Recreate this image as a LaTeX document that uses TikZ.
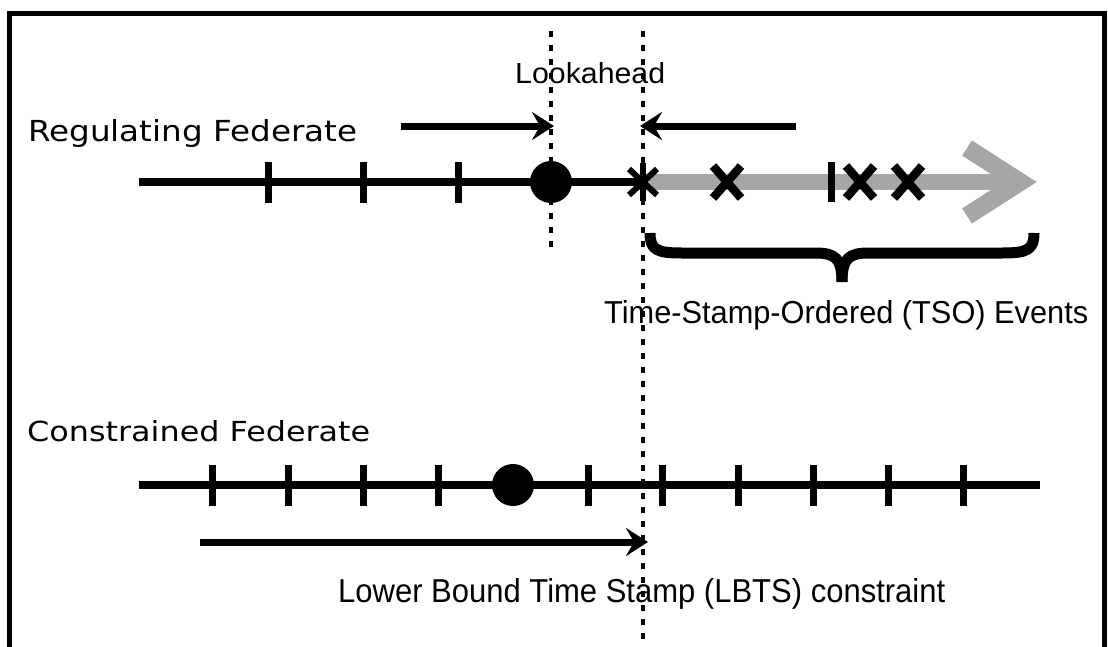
\documentclass[tikz,border=0pt]{standalone}
\usepackage{fontspec}
\usepackage{graphicx}
\usetikzlibrary{arrows.meta}
\newfontfamily\fedfont{DejaVu Sans}
\newfontfamily\notefont{Liberation Sans}

\tikzset{
  frameline/.style={line width=5pt, black},
  timeline/.style={line width=8.5pt, black},
  tickmark/.style={line width=7pt, black},
  guide/.style={line width=4pt, black, dash pattern=on 6pt off 8pt},
  pointer/.style={line width=7pt, black, -{Stealth[length=22pt,width=28pt,inset=8pt]}},
  eventband/.style={line width=16pt, gray!70},
  eventhead/.style={line width=18pt, gray!70, line join=miter},
  xmark/.style={line width=8.5pt, black},
  spoke/.style={line width=6pt, black},
  brace/.style={line width=11pt, black, line join=round},
  timedot/.style={circle, fill=black, inner sep=0pt, minimum size=42pt},
  lbl/.style={anchor=base west, inner sep=0pt, text=black}
}

\begin{document}
\begin{tikzpicture}[x=1pt, y=-1pt]
  \useasboundingbox (0,0) rectangle (1108,646);
  \clip (0,0) rectangle (1108,646);

  % outer frame (its lower edge lies below the page)
  \draw[frameline] (9,660) -- (9,13) -- (1104,13) -- (1104,660);

  % lookahead guides
  \coordinate (g1top) at (551,31);
  \coordinate (g1bot) at (551,249);
  \coordinate (g2top) at (643,31);
  \coordinate (g2bot) at (643,646);
  \draw[guide] (g1top) -- (g1bot);
  \draw[guide] (g2top) -- (g2bot);

  % ---- regulating federate ----
  \node[lbl] (reg) at (28,141) {\resizebox{329pt}{22pt}{\fedfont Regulating Federate}};
  \node[lbl] (look) at (515,83) {\resizebox{150pt}{21pt}{\notefont Lookahead}};

  \coordinate (rstart) at (139,182);
  \coordinate (ast) at (643,182);
  \coordinate (bandend) at (1022,182);
  \draw[timeline] (rstart) -- (ast);
  \foreach \x in {268,363,458}
    \draw[tickmark] (\x,162) -- (\x,203);
  \node[timedot] (rdot) at (551,182) {};

  % TSO event stream
  \draw[eventband] (ast) -- (bandend);
  \coordinate (headtop) at (967,148);
  \coordinate (headtip) at (1020,182);
  \coordinate (headbot) at (967,216);
  \draw[eventhead] (headtop) -- (headtip) -- (headbot);
  \foreach \x in {727,860,908}
    \draw[xmark] (\x-14,166) -- (\x+14,198) (\x-14,198) -- (\x+14,166);
  \draw[tickmark] (831,162) -- (831,202);
  \draw[spoke] ([shift={(0,-19)}]ast) -- ([shift={(0,19)}]ast);
  \draw[spoke] ([shift={(-14,-13)}]ast) -- ([shift={(14,13)}]ast);
  \draw[spoke] ([shift={(-14,13)}]ast) -- ([shift={(14,-13)}]ast);

  % lookahead pointers
  \coordinate (la1) at (401,126);
  \coordinate (la2) at (554,126);
  \coordinate (lb1) at (796,126);
  \coordinate (lb2) at (640,126);
  \draw[pointer] (la1) -- (la2);
  \draw[pointer] (lb1) -- (lb2);

  % brace under the events
  \draw[brace] (650,233) .. controls (650,250) and (657,253) .. (682,253)
    -- (815,253) .. controls (835,253) and (842,258) .. (842,282);
  \draw[brace] (842,282) .. controls (842,258) and (849,253) .. (869,253)
    -- (1002,253) .. controls (1027,253) and (1034,250) .. (1034,233);
  \node[lbl] (tso) at (604,323) {\resizebox{484pt}{23pt}{\notefont Time-Stamp-Ordered (TSO) Events}};

  % ---- constrained federate ----
  \node[lbl] (con) at (27,441) {\resizebox{343pt}{21pt}{\fedfont Constrained Federate}};
  \coordinate (cstart) at (139,485);
  \coordinate (cend) at (1040,485);
  \draw[timeline] (cstart) -- (cend);
  \foreach \x in {212,288,363,438,588,662,738,813,888,963}
    \draw[tickmark] (\x,465) -- (\x,506);
  \node[timedot] (cdot) at (513,485) {};

  % LBTS pointer
  \coordinate (lbts1) at (200,542);
  \coordinate (lbts2) at (648,542);
  \draw[pointer] (lbts1) -- (lbts2);
  \node[lbl] (lbts) at (338,602) {\resizebox{607pt}{24pt}{\notefont Lower Bound Time Stamp (LBTS) constraint}};
\end{tikzpicture}
\end{document}
